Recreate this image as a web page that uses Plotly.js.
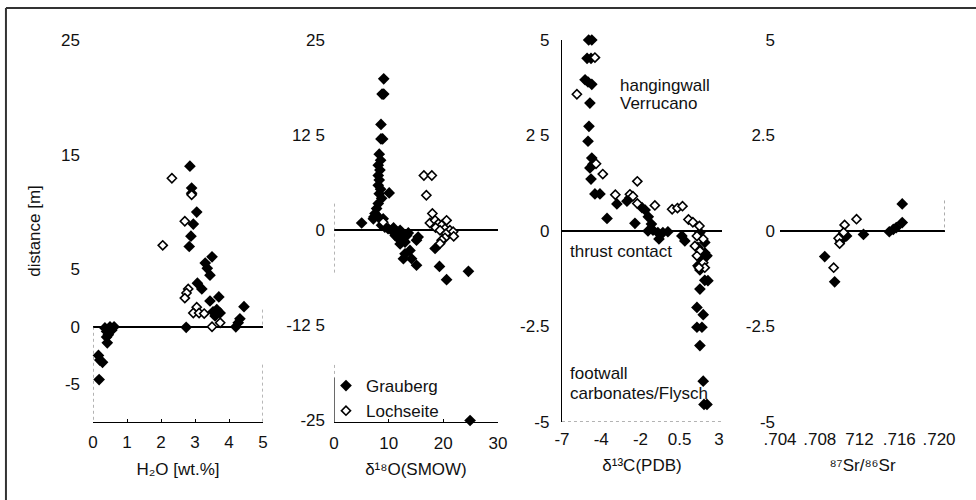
<!DOCTYPE html>
<html>
<head>
<meta charset="utf-8">
<script src="https://cdn.plot.ly/plotly-3.0.1.min.js"></script>
<style>html,body{margin:0;padding:0;background:#fff;}#chart{width:976px;height:500px;}</style>
</head>
<body>
<div id="chart"></div>
<script>
// ---- Panel 1: H2O [wt.%] vs distance [m] ----
const h2oGrauX = [2.85, 2.9, 2.9, 3.05, 2.95, 2.88, 2.83, 3.5, 3.3, 3.36, 3.44, 3.07, 3.2, 3.7, 3.44, 4.44, 3.64, 3.53, 3.74, 3.59, 4.32, 4.27, 4.2, 2.74, 0.35, 0.5, 0.62, 0.4, 0.55, 0.45, 0.4, 0.42, 0.16, 0.2, 0.28, 0.18];
const h2oGrauY = [14.0, 12.1, 11.65, 10.0, 8.95, 7.9, 7.0, 6.1, 5.55, 5.1, 4.5, 3.8, 3.3, 2.6, 2.25, 1.75, 1.5, 1.3, 1.2, 0.95, 0.7, 0.35, 0.0, -0.05, -0.1, 0.0, 0.0, -0.4, -0.3, -0.7, -0.9, -1.4, -2.5, -2.9, -3.1, -4.6];
const h2oLochX = [2.32, 2.9, 2.7, 2.05, 2.8, 2.75, 2.7, 3.05, 2.95, 3.12, 3.27, 3.74, 3.5];
const h2oLochY = [12.95, 11.5, 9.2, 7.1, 3.3, 2.95, 2.5, 1.7, 1.2, 1.2, 1.15, 0.35, 0.0];

// ---- Panel 2: d18O (SMOW) ----
const o18GrauX = [9.1, 8.8, 9.1, 8.6, 8.6, 8.9, 8.28, 8.53, 8.1, 8.4, 8.1, 8.28, 8.1, 8.53, 8.28, 8.72, 8.1, 7.8, 7.5, 7.3, 10.1, 5.06, 8.1, 9.0, 7.2, 8.7, 9.3, 9.9, 10.5, 10.9, 11.5, 12.1, 12.4, 11.2, 11.8, 12.7, 13.3, 12.1, 13.0, 13.6, 15.4, 15.1, 13.9, 13.0, 12.7, 14.2, 15.1, 18.5, 19.3, 24.6, 20.6, 24.9];
const o18GrauY = [19.9, 17.9, 17.9, 13.9, 12.0, 12.0, 10.0, 9.2, 8.55, 7.9, 7.2, 6.6, 5.9, 5.4, 4.8, 4.2, 3.5, 2.85, 2.2, 1.75, 4.9, 0.95, 1.75, 1.5, 1.5, 0.65, 0.4, 0.2, 0.0, 0.3, -0.2, 0.0, -0.45, -0.7, -1.1, -1.0, -0.7, -1.8, -1.55, -0.35, -0.9, -1.3, -2.65, -3.1, -3.75, -3.75, -4.6, -2.4, -4.75, -5.4, -6.5, -25.0];
const o18LochX = [16.45, 17.9, 16.9, 18.0, 17.55, 18.5, 19.1, 20.6, 19.7, 18.6, 20.3, 21.2, 21.8, 19.4, 20.5, 20.3, 21.9, 19.7, 19.4, 9.0];
const o18LochY = [7.2, 7.2, 4.6, 2.2, 0.95, 1.3, 0.87, 1.3, 0.65, 0.34, 0.2, 0.0, -0.2, 0.0, -0.45, -1.0, -0.8, -1.3, -1.75, 1.05];

// ---- Panel 3: d13C (PDB) ----
const c13GrauX = [-5.3, -5.1, -5.4, -5.15, -5.53, -5.34, -5.1, -5.22, -5.28, -5.34, -5.1, -5.03, -5.22, -5.15, -4.9, -4.58, -4.13, -3.5, -2.86, -2.67, -2.35, -1.9, -1.7, -1.5, -1.3, -1.52, -1.2, -0.89, -0.57, -0.25, -0.82, 0.64, 0.83, 1.79, 2.1, 1.66, 2.1, 1.92, 1.66, 1.79, 2.1, 2.3, 1.79, 1.6, 2.0, 2.24, 1.6, 1.92, 1.79, 2.0, 2.05, 2.24];
const c13GrauY = [5.0, 5.0, 4.52, 4.52, 3.96, 3.9, 3.84, 3.35, 2.74, 2.35, 1.91, 1.75, 1.65, 1.36, 0.97, 0.97, 0.33, 0.71, 0.78, 0.87, 0.2, 0.61, 0.55, 0.37, 0.18, 0.0, 0.02, -0.04, -0.04, -0.02, -0.21, -0.13, -0.26, -0.04, -0.3, -0.43, -0.57, -0.73, -0.91, -1.02, -1.29, -1.3, -1.52, -2.0, -2.19, -0.65, -2.52, -2.52, -3.0, -3.93, -4.54, -4.54];
const c13LochX = [-4.9, -6.05, -4.83, -4.4, -3.6, -2.67, -2.48, -2.2, -2.2, -1.08, 0.02, 0.36, 0.68, 1.06, 1.34, 1.76, 1.6, 2.0, 1.47, 1.79, 1.6, 2.0, 2.1, 1.73];
const c13LochY = [4.54, 3.58, 1.76, 1.49, 0.95, 0.96, 0.91, 1.3, 0.72, 0.67, 0.57, 0.6, 0.65, 0.3, 0.23, 0.13, -0.13, -0.21, -0.39, -0.52, -0.65, -0.83, -0.96, -0.96];

// ---- Panel 4: 87Sr/86Sr ----
const srGrauX = [0.7163, 0.7163, 0.7157, 0.7154, 0.7150, 0.7124, 0.7107, 0.7103, 0.7101, 0.7085, 0.7095];
const srGrauY = [0.71, 0.22, 0.09, 0.04, -0.02, -0.09, -0.13, -0.19, -0.26, -0.67, -1.33];
const srLochX = [0.7117, 0.7105, 0.7104, 0.7099, 0.7100, 0.7094];
const srLochY = [0.31, 0.16, -0.04, -0.19, -0.33, -0.96];

// ---- Axis tick labels ----
const y1Vals = [25, 15, 5, 0, -5];
const y1Text = ["25", "15", "5", "0", "-5"];
const x1Vals = [0, 1, 2, 3, 4, 5];
const y2Vals = [25, 12.5, 0, -12.5, -25];
const y2Text = ["25", "12 5", "0", "-12 5", "-25"];
const x2Vals = [0, 10, 20, 30];
const y3Vals = [5, 2.5, 0, -2.5, -5];
const y3Text = ["5", "2 5", "0", "-2.5", "-5"];
const x3Vals = [-7, -4.5, -2, 0.5, 3];
const x3Text = ["-7", "-4", "-2", "0.5", "3"];
const y4Vals = [5, 2.5, 0, -2.5, -5];
const y4Text = ["5", "2.5", "0", "-2.5", "-5"];
const x4Vals = [0.704, 0.708, 0.712, 0.716, 0.720];
const x4Text = [".704", ".708", "712", ".716", ".720"];

const FONT = "Liberation Sans, Arial, Helvetica, DejaVu Sans, sans-serif";
const filled = {symbol: "diamond", size: 9, color: "#000", line: {width: 0}};
const open = {symbol: "diamond", size: 7, color: "#fff", line: {width: 1.6, color: "#000"}};

function pair(xg, yg, xl, yl, xa, ya, show) {
  return [
    {x: xg, y: yg, xaxis: xa, yaxis: ya, type: "scatter", mode: "markers", name: "Grauberg",
     legendgroup: "g", showlegend: show, marker: filled, cliponaxis: false},
    {x: xl, y: yl, xaxis: xa, yaxis: ya, type: "scatter", mode: "markers", name: "Lochseite",
     legendgroup: "l", showlegend: show, marker: open, cliponaxis: false}
  ];
}

const data = [].concat(
  pair(h2oGrauX, h2oGrauY, h2oLochX, h2oLochY, "x", "y", false),
  pair(o18GrauX, o18GrauY, o18LochX, o18LochY, "x2", "y2", true),
  pair(c13GrauX, c13GrauY, c13LochX, c13LochY, "x3", "y3", false),
  pair(srGrauX, srGrauY, srLochX, srLochY, "x4", "y4", false)
);

const YD = [0.156, 0.92];
function xax(domain, range, vals, text, title, extra) {
  return Object.assign({
    domain: domain, range: range, tickmode: "array", tickvals: vals,
    ticktext: text || vals.map(String), showgrid: false, zeroline: false,
    showline: false, ticks: "", ticklabelstandoff: 5,
    tickfont: {family: FONT, size: 17, color: "#111"},
    title: {text: title, font: {family: FONT, size: 17, color: "#111"}, standoff: 11},
    fixedrange: true
  }, extra || {});
}
function yax(domain, range, vals, text, standoff, anchor, extra) {
  return Object.assign({
    domain: domain, range: range, anchor: anchor, tickmode: "array", tickvals: vals,
    ticktext: text, showgrid: false, zeroline: true, zerolinecolor: "#000", zerolinewidth: 1.6,
    showline: false, ticks: "", ticklabelstandoff: standoff,
    tickfont: {family: FONT, size: 17, color: "#111"}, fixedrange: true
  }, extra || {});
}

const dot = (xref, yref, x0, y0, x1, y1) => ({type: "line", xref: xref, yref: yref, x0: x0, y0: y0, x1: x1, y1: y1,
  line: {color: "#666", width: 1, dash: "dot"}});

const layout = {
  width: 976, height: 500,
  margin: {l: 0, r: 0, t: 0, b: 0},
  paper_bgcolor: "#fff", plot_bgcolor: "rgba(0,0,0,0)",
  font: {family: FONT, size: 17, color: "#111"},
  xaxis: xax([0.0953, 0.2695], [0, 5], x1Vals, null, "H₂O [wt.%]",
    {anchor: "y", showline: true, linecolor: "#000", linewidth: 1, ticks: "inside", ticklen: 3, tickcolor: "#000"}),
  yaxis: yax(YD, [-8.3, 25], y1Vals, y1Text, 12, "x",
    {title: {text: "distance [m]", font: {family: FONT, size: 17, color: "#111"}, standoff: 16}}),
  xaxis2: xax([0.3422, 0.5102], [0, 30], x2Vals, null, "δ¹⁸O(SMOW)",
    {anchor: "y2", showline: true, linecolor: "#000", linewidth: 1.2, ticks: "inside", ticklen: 3, tickcolor: "#000"}),
  yaxis2: yax(YD, [-25.2, 25], y2Vals, y2Text, 8, "x2"),
  xaxis3: xax([0.5758, 0.7398], [-7, 3.2], x3Vals, x3Text, "δ¹³C(PDB)", {anchor: "y3"}),
  yaxis3: yax(YD, [-5, 5], y3Vals, y3Text, 8, "x3", {showline: true, linecolor: "#000", linewidth: 1.2}),
  xaxis4: xax([0.7992, 0.9682], [0.704, 0.7206], x4Vals, x4Text, "⁸⁷Sr/⁸⁶Sr", {anchor: "y4"}),
  yaxis4: yax(YD, [-5, 5], y4Vals, y4Text, 4, "x4"),
  showlegend: true,
  legend: {x: 0.334, y: 0.264, xanchor: "left", yanchor: "top", bgcolor: "rgba(0,0,0,0)",
    borderwidth: 0, font: {family: FONT, size: 17, color: "#111"}, tracegroupgap: 0, itemwidth: 30},
  annotations: [
    {text: "hangingwall", xref: "paper", yref: "paper", x: 0.633, y: 0.83, xanchor: "left", yanchor: "middle", showarrow: false, font: {family: FONT, size: 17, color: "#111"}},
    {text: "Verrucano", xref: "paper", yref: "paper", x: 0.633, y: 0.792, xanchor: "left", yanchor: "middle", showarrow: false, font: {family: FONT, size: 17, color: "#111"}},
    {text: "thrust contact", xref: "paper", yref: "paper", x: 0.582, y: 0.498, xanchor: "left", yanchor: "middle", showarrow: false, font: {family: FONT, size: 17, color: "#111"}},
    {text: "footwall", xref: "paper", yref: "paper", x: 0.582, y: 0.254, xanchor: "left", yanchor: "middle", showarrow: false, font: {family: FONT, size: 17, color: "#111"}},
    {text: "carbonates/Flysch", xref: "paper", yref: "paper", x: 0.582, y: 0.214, xanchor: "left", yanchor: "middle", showarrow: false, font: {family: FONT, size: 17, color: "#111"}}
  ],
  shapes: [
    // outer frame (left and top edges of the scanned figure)
    {type: "line", xref: "paper", yref: "paper", x0: 0.0061, y0: 0, x1: 0.0061, y1: 0.984, line: {color: "#333", width: 2}},
    {type: "line", xref: "paper", yref: "paper", x0: 0.0061, y0: 0.984, x1: 1, y1: 0.984, line: {color: "#333", width: 2}},
    // panel 1 dotted frame
    dot("x", "y", 0, 0, 0, -8.3),
    dot("x", "y", 5, 1.5, 5, 0),
    dot("x", "y", 5, -3.3, 5, -8.3),
    // panel 2 dotted left edge and legend box edge
    dot("x2", "y2", 0, 3.5, 0, -5.6),
    dot("x2", "y2", 0, -17.7, 0, -19.4),
    {type: "line", xref: "x2", yref: "y2", x0: 0, y0: -19.4, x1: 0, y1: -25.2, line: {color: "#000", width: 1.2}},
    // panel 3 dotted bottom
    dot("x3", "y3", -7, -5, 3.2, -5),
    // panel 4 dotted right edge
    dot("x4", "y4", 0.7206, 0.8, 0.7206, 0)
  ]
};

Plotly.newPlot("chart", data, layout, {displayModeBar: false, staticPlot: true});
</script>
</body>
</html>
